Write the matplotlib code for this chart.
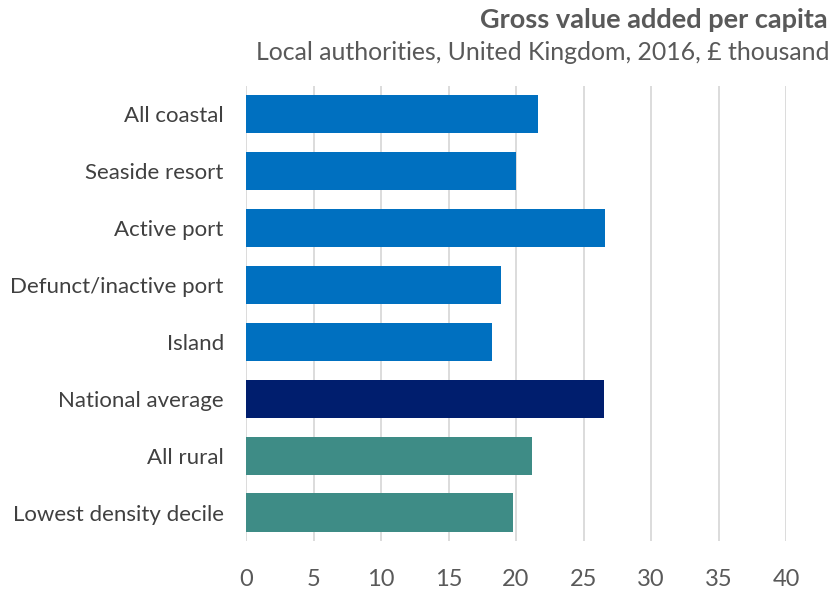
import matplotlib
matplotlib.use("Agg")
import matplotlib.pyplot as plt

categories = ["All coastal", "Seaside resort", "Active port", "Defunct/inactive port",
              "Island", "National average", "All rural", "Lowest density decile"]
values = [21.6, 20.0, 26.6, 18.9, 18.2, 26.5, 21.2, 19.8]
colors = ["#0070C0"] * 5 + ["#001E6E"] + ["#3E8C86"] * 2
xticks = [0, 5, 10, 15, 20, 25, 30, 35, 40]

plt.rcParams['font.family'] = ['Lato', 'DejaVu Sans']
text_color = "#595959"

fig = plt.figure(figsize=(8.34, 5.91), dpi=100)
ax = fig.add_axes([246 / 834, 1 - 541 / 591, 540 / 834, (541 - 85.5) / 591])

ypos = list(range(len(categories)))
ax.barh(ypos, values, height=0.67, color=colors, zorder=3)
ax.set_ylim(len(categories) - 0.5, -0.5)
ax.set_xlim(0, 40)
ax.set_xticks(xticks)
ax.set_yticks(ypos)
ax.set_yticklabels(categories, fontsize=16, color="#404040")
ax.tick_params(axis="x", labelsize=17, labelcolor=text_color, length=0, pad=20)
ax.tick_params(axis="y", length=0, pad=16)
ax.grid(axis="x", color="#D9D9D9", linewidth=1.3, zorder=0)
for s in ax.spines.values():
    s.set_visible(False)

fig.text(828 / 834, 1 - 20 / 591, "Gross value added per capita", ha="right", va="center",
         fontsize=19.5, fontweight="bold", color=text_color)
fig.text(829 / 834, 1 - 52 / 591, "Local authorities, United Kingdom, 2016, £ thousand",
         ha="right", va="center", fontsize=17.9, color=text_color)

fig.savefig("out.png", dpi=100)
